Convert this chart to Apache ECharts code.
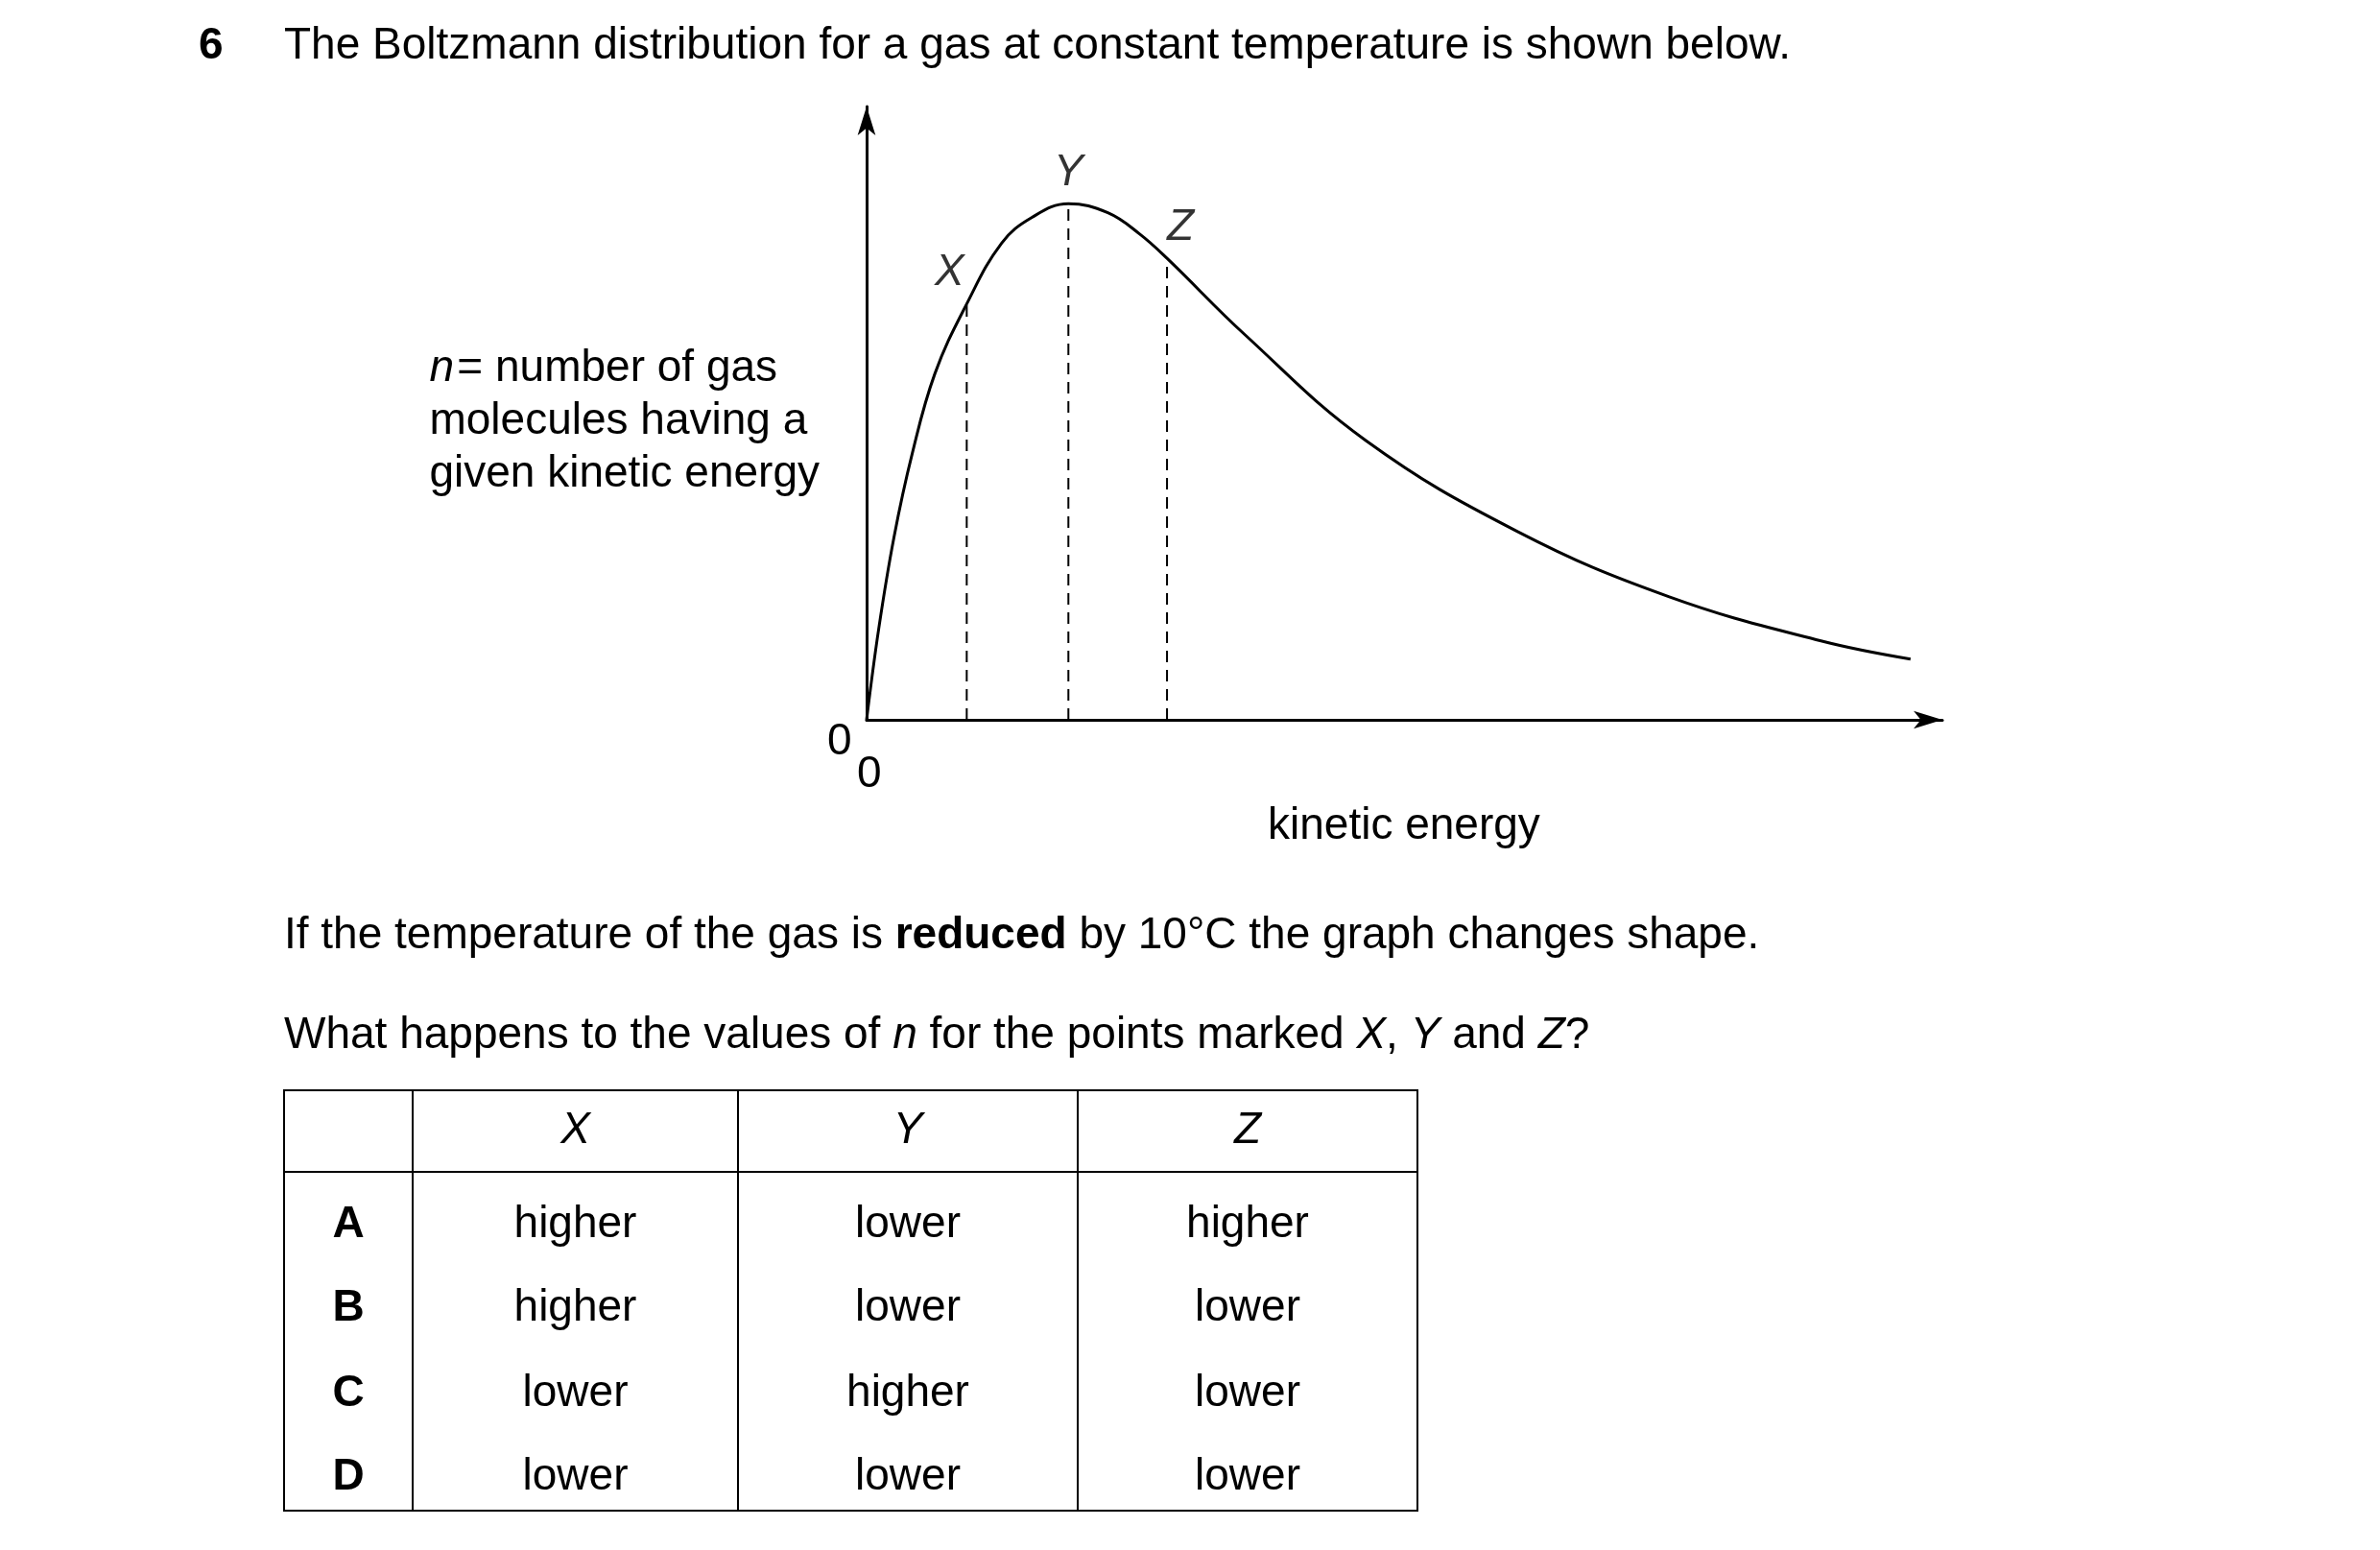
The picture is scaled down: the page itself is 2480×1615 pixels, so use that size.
<!DOCTYPE html>
<html><head><meta charset="utf-8">
<script src="https://cdn.jsdelivr.net/npm/echarts@6/dist/echarts.min.js"></script>
<style>html,body{margin:0;background:#fff}#c{width:2480px;height:1615px}</style>
</head><body><div id="c"></div>
<script>
const curveX = [0,8,18,30,45,66,89,109,133,159,180,198,249,329,429,529,629,688];
const curveY = [0,60,120,175,228,274,314,331,340,334,320,304,254,184,124,81,52,40];
const markX = [66,133,198];
const markY = [274,340,304];
const markNames = ['X','Y','Z'];
const tableHead = ['', 'X', 'Y', 'Z'];
const tableRows = [
  ['A','higher','lower','higher'],
  ['B','higher','lower','lower'],
  ['C','lower','higher','lower'],
  ['D','lower','lower','lower']
];
const F = 'Liberation Sans, Arial, sans-serif';
const FS = 46;
const chart = echarts.init(document.getElementById('c'));
const series = [{
  type:'line', data: curveX.map((x,i)=>[x,curveY[i]]), smooth:0.4, symbol:'none',
  lineStyle:{color:'#000',width:3}
}];
markX.forEach((x,i)=>{
  series.push({type:'line', data:[[x,0],[x,markY[i]]], symbol:'none',
    lineStyle:{color:'#000',width:2,type:[12,8]}});
});
series.push({type:'scatter', symbolSize:0,
  label:{show:true, formatter:p=>markNames[p.dataIndex], fontFamily:F, fontStyle:'italic', fontSize:FS, color:'#000', position:'top'},
  data:[
    {value:[markX[0],markY[0]], label:{offset:[-18,-4]}},
    {value:[markX[1],markY[1]], label:{offset:[0,-4]}},
    {value:[markX[2],markY[2]], label:{offset:[14,-4]}}
  ]});
const g = [];
const txt = (x,y,t,opt={}) => g.push({type:'text', left:x, top:y, style:Object.assign({text:t, font:`${FS}px ${F}`, fill:'#000', textVerticalAlign:'middle'},opt)});
txt(207,25,'6',{font:`bold ${FS}px ${F}`});
txt(296,25,'The Boltzmann distribution for a gas at constant temperature is shown below.');
g.push({type:'text', right:2480-854, top:357, style:{rich:{i:{fontStyle:'italic',fontSize:FS,fontFamily:F},n:{fontSize:FS,fontFamily:F}}, text:'{i|n} {n|= number of gas}\n{n|molecules having a}\n{n|given kinetic energy}', align:'right', lineHeight:55, fill:'#000'}});
txt(862,750,'0'); txt(893,784,'0');
txt(1321,838,'kinetic energy');
g.push({type:'text', left:296, top:952, style:{rich:{n:{fontSize:FS,fontFamily:F},b:{fontSize:FS,fontFamily:F,fontWeight:'bold'}}, text:'{n|If the temperature of the gas is }{b|reduced}{n| by 10\u00b0C the graph changes shape.}', fill:'#000', textVerticalAlign:'middle'}});
g.push({type:'text', left:296, top:1056, style:{rich:{n:{fontSize:FS,fontFamily:F},i:{fontSize:FS,fontFamily:F,fontStyle:'italic'}}, text:'{n|What happens to the values of }{i|n}{n| for the points marked }{i|X}{n|, }{i|Y}{n| and }{i|Z}{n|?}', fill:'#000', textVerticalAlign:'middle'}});
const cx=[296,430,769,1123,1477], ty=1136, hy=1221, by=1574;
g.push({type:'rect', shape:{x:cx[0],y:ty,width:cx[4]-cx[0],height:by-ty}, style:{fill:'none',stroke:'#000',lineWidth:2}});
g.push({type:'line', shape:{x1:cx[0],y1:hy,x2:cx[4],y2:hy}, style:{stroke:'#000',lineWidth:2}});
for(let i=1;i<4;i++) g.push({type:'line', shape:{x1:cx[i],y1:ty,x2:cx[i],y2:by}, style:{stroke:'#000',lineWidth:2}});
const ctr=(x,y,t,opt={})=>g.push({type:'text', x:x, y:y, style:Object.assign({text:t,font:`${FS}px ${F}`,fill:'#000',align:'center',verticalAlign:'middle'},opt)});
tableHead.forEach((h,i)=>{ if(h) ctr((cx[i]+cx[i+1])/2,1178,h,{font:`italic ${FS}px ${F}`}); });
const ry=[1276,1363,1452,1539];
tableRows.forEach((r,j)=>r.forEach((c,i)=>ctr((cx[i]+cx[i+1])/2,ry[j],c,i===0?{font:`bold ${FS}px ${F}`}:{})));
chart.setOption({
  animation:false,
  grid:{left:903,top:111,width:1121,height:639},
  xAxis:{type:'value',min:0,max:709,axisLine:{lineStyle:{color:'#000',width:3},symbol:['none','arrow'],symbolSize:[14,30]},axisTick:{show:false},axisLabel:{show:false},splitLine:{show:false}},
  yAxis:{type:'value',min:0,max:404,axisLine:{show:true,lineStyle:{color:'#000',width:3},symbol:['none','arrow'],symbolSize:[14,30]},axisTick:{show:false},axisLabel:{show:false},splitLine:{show:false}},
  series, graphic:g
});
</script></body></html>
